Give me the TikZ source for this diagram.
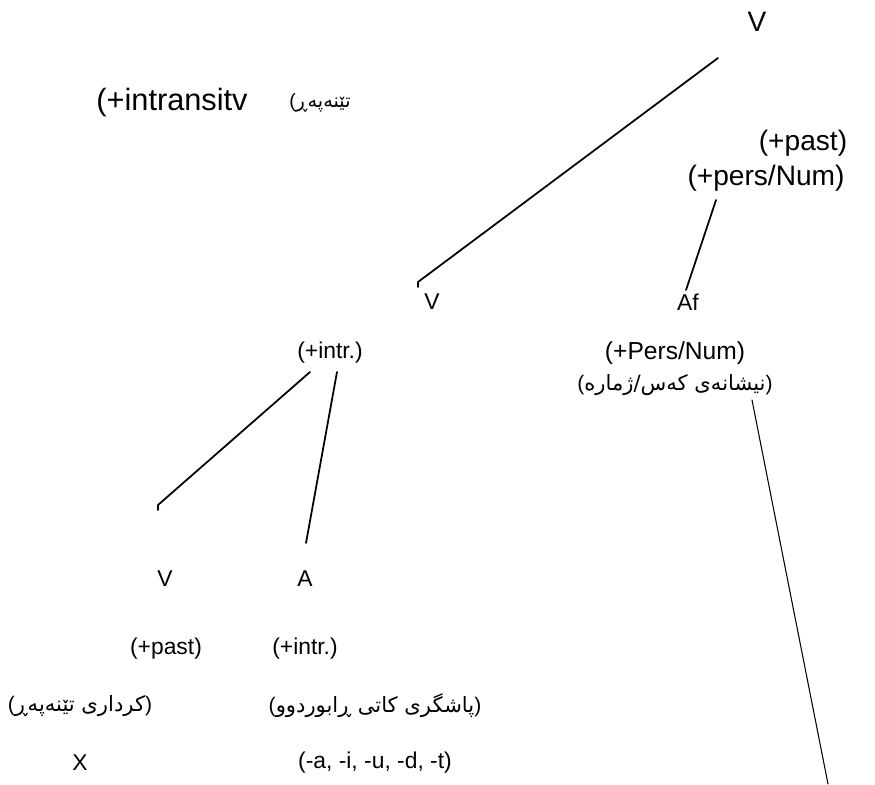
\documentclass[tikz,border=0pt]{standalone}
\usepackage{fontspec}
\setmainfont{Liberation Sans}
\newfontfamily\kurdfont[Script=Arabic]{DejaVu Sans}
\TeXXeTstate=1
\newcommand{\kurdtext}[1]{{\kurdfont\beginR #1\endR}}
\tikzset{
    lbl/.style={font=\fontsize{13}{15}\selectfont, inner sep=0pt},
    toplbl/.style={font=\fontsize{16}{18}\selectfont, inner sep=0pt},
    kurd/.style={font=\fontsize{12}{14}\selectfont, inner sep=0pt},
    branch/.style={line width=1pt, line cap=round, line join=round},
    link/.style={line width=0.6pt, line cap=round}
}
\begin{document}
\begin{tikzpicture}
    \useasboundingbox ( 0, 0 ) rectangle ( 17.5, 15.68 );

    % вершина
    \node [toplbl] (vtop) at ( 15.14, 15.24 ) {V};
    \node [toplbl, font=\fontsize{17.5}{20}\selectfont] (intrans) at ( 3.44, 13.62 ) {(+intransitv};
    \node [kurd, font=\fontsize{11}{13}\selectfont] (intranskurd) at ( 6.4, 13.62 ) {(\kurdtext{تێنەپەڕ}};
    \node [toplbl] (pasttop) at ( 16.06, 12.82 ) {(+past)};
    \node [toplbl] (perstop) at ( 15.32, 12.12 ) {(+pers/Num)};

    % средний уровень
    \node [lbl] (vmid) at ( 8.64, 9.64 ) {V};
    \node [lbl] (intrmid) at ( 6.6, 8.62 ) {(+intr.)};
    \node [lbl] (af) at ( 13.76, 9.64 ) {Af};
    \node [lbl, font=\fontsize{14}{16}\selectfont] (persmid) at ( 13.5, 8.62 ) {(+Pers/Num)};
    \node [kurd] (perskurd) at ( 13.5, 7.98 ) {(\kurdtext{نیشانەی کەس/ژمارە})};

    % нижний уровень
    \node [lbl] (vlow) at ( 3.3, 4.1 ) {V};
    \node [lbl] (alow) at ( 6.1, 4.1 ) {A};
    \node [lbl] (pastlow) at ( 3.32, 2.7 ) {(+past)};
    \node [lbl] (intrlow) at ( 6.1, 2.7 ) {(+intr.)};
    \node [kurd] (verbkurd) at ( 1.6, 1.56 ) {(\kurdtext{کرداری تێنەپەڕ})};
    \node [kurd] (suffkurd) at ( 7.5, 1.56 ) {(\kurdtext{پاشگری کاتی ڕابوردوو})};
    \node [lbl] (stem) at ( 1.6, 0.42 ) {X};
    \node [lbl] (suff) at ( 7.5, 0.42 ) {(-a, -i, -u, -d, -t)};

    % концы ветвей
    \coordinate (b1a) at ( 14.36, 14.52 );
    \coordinate (b1b) at ( 8.36, 10.04 );
    \coordinate (b2a) at ( 14.32, 11.68 );
    \coordinate (b2b) at ( 13.72, 9.88 );
    \coordinate (b3a) at ( 6.2, 8.24 );
    \coordinate (b3b) at ( 3.16, 5.58 );
    \coordinate (b4a) at ( 6.74, 8.24 );
    \coordinate (b4b) at ( 6.12, 4.82 );
    \coordinate (b5a) at ( 15.04, 7.68 );
    \coordinate (b5b) at ( 16.56, 0 );

    % ветви
    \draw [branch] (b1a) -- (b1b) -- ++( 0.0, -0.1 );
    \draw [branch] (b2a) -- (b2b);
    \draw [branch] (b3a) -- (b3b) -- ++( 0.0, -0.1 );
    \draw [branch] (b4a) -- (b4b);
    \draw [link] (b5a) -- (b5b);
\end{tikzpicture}
\end{document}
